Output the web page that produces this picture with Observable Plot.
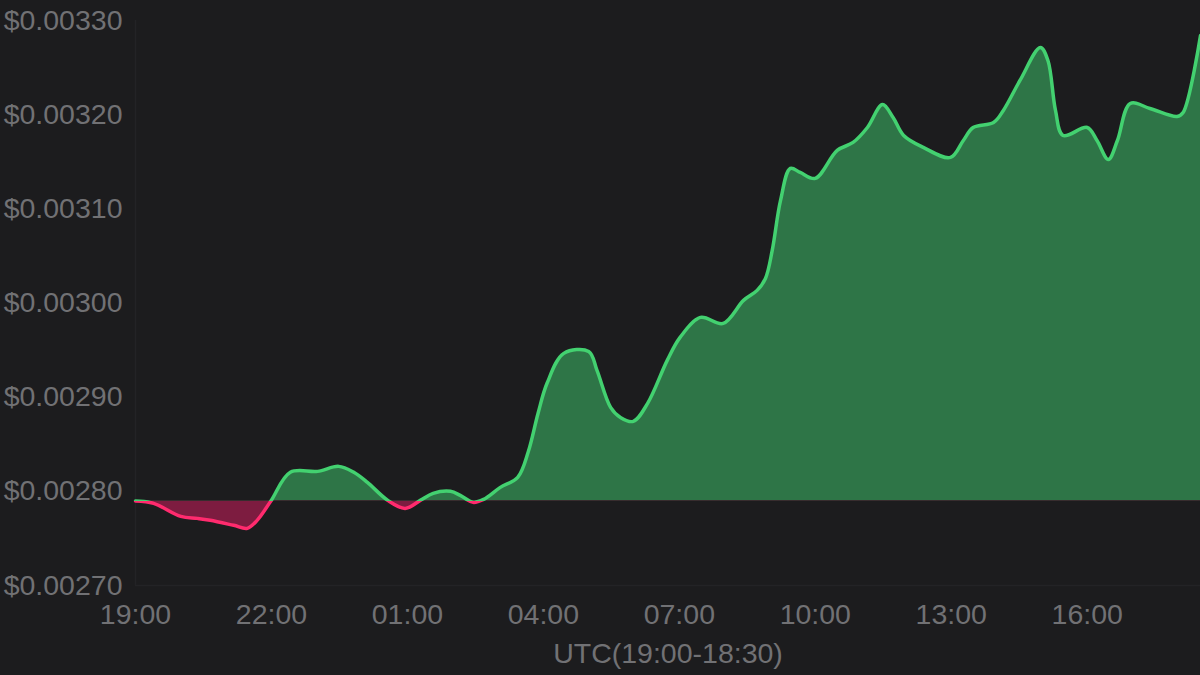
<!DOCTYPE html>
<html>
<head>
<meta charset="utf-8">
<script src="https://cdn.jsdelivr.net/npm/d3@7"></script>
<script src="https://cdn.jsdelivr.net/npm/@observablehq/plot@0.6"></script>
<style>
  html, body { margin: 0; padding: 0; background: #1c1c1e; }
  #chart { width: 1200px; height: 675px; }
</style>
</head>
<body>
<div id="chart"></div>
<script>
// minutes after 19:00 UTC
const minutes = [0,24,60,82,99,130,148,161,179,205,241,269,289,307,334,357,377,394,417,430,447,461,483,506,520,533,545,567,600,611,629,642,659,678,704,721,748,778,805,823,834,843,854,867,880,900,929,950,969,989,1003,1017,1043,1079,1096,1109,1136,1149,1171,1198,1208,1218,1228,1260,1273,1288,1300,1317,1343,1379,1387,1410];
// price in USD
const prices = [0.0027897,0.0027872,0.0027734,0.0027713,0.0027692,0.0027639,0.0027607,0.0027692,0.0027894,0.0028202,0.0028212,0.0028265,0.0028202,0.0028095,0.0027904,0.0027819,0.0027904,0.0027979,0.0028000,0.0027957,0.0027883,0.0027915,0.0028042,0.0028148,0.0028420,0.0028830,0.0029150,0.0029465,0.0029486,0.0029284,0.0028892,0.0028785,0.0028743,0.0028934,0.0029391,0.0029635,0.0029847,0.0029783,0.0030028,0.0030134,0.0030261,0.0030558,0.0031089,0.0031429,0.0031386,0.0031323,0.0031620,0.0031705,0.0031864,0.0032108,0.0031970,0.0031779,0.0031652,0.0031546,0.0031726,0.0031864,0.0031917,0.0032045,0.0032363,0.0032713,0.0032575,0.0032045,0.0031779,0.0031864,0.0031726,0.0031524,0.0031726,0.0032119,0.0032066,0.0031981,0.0032023,0.0032840];
const yTicks = [0.0027,0.0028,0.0029,0.0030,0.0031,0.0032,0.0033];
const xTickLabels = ["19:00","22:00","01:00","04:00","07:00","10:00","13:00","16:00"];
const endLabel = "18:30";
const axisTitle = "UTC(19:00-18:30)";

const start = new Date(Date.UTC(2024, 0, 1, 19, 0));
const toDate = (hhmm) => {
  const [h, m] = hhmm.split(":").map(Number);
  return new Date(Date.UTC(2024, 0, h >= 19 ? 1 : 2, h, m));
};
const data = minutes.map((m, i) => ({t: new Date(+start + m * 60000), p: prices[i], b: prices[0]}));
const base = prices[0];
const xTicks = xTickLabels.map(toDate);
const end = toDate(endLabel);

const green = "#43d170", greenFill = "#2e7547", red = "#ff2b6e", redFill = "#7d1c40";
const textColor = "#717174";
const curve = "catmull-rom";

const plot = Plot.plot({
  width: 1200,
  height: 675,
  marginLeft: 135,
  marginRight: 0,
  marginTop: 20,
  marginBottom: 90,
  style: {background: "#1c1c1e", color: textColor, fontFamily: "'Liberation Sans', Arial, sans-serif", fontSize: "28.5px"},
  x: {type: "utc", domain: [start, end], ticks: xTicks, tickFormat: d3.utcFormat("%H:%M"), tickSize: 0, tickPadding: 18, label: null},
  y: {domain: [0.0027, 0.0033], ticks: yTicks, tickFormat: d => "$" + d.toFixed(5), tickSize: 0, tickPadding: 13, label: null},
  marks: [
    Plot.ruleX([start], {stroke: "#232326", strokeWidth: 1.5}),
    Plot.ruleY([0.0027], {stroke: "#232326", strokeWidth: 1.5}),
    Plot.areaY(data, {x: "t", y1: "b", y2: "p", fill: greenFill, curve}),
    Plot.areaY(data, {x: "t", y1: "b", y2: "p", fill: redFill, curve}),
    Plot.lineY(data, {x: "t", y: "p", stroke: green, strokeWidth: 3.5, curve}),
    Plot.lineY(data, {x: "t", y: "p", stroke: red, strokeWidth: 3.5, curve}),
    Plot.text([axisTitle], {frameAnchor: "bottom", dy: 77, fill: textColor, fontSize: 28.5})
  ]
});

// split above/below opening price with clip paths
const yb = plot.scale("y").apply(base);
const svg = d3.select(plot);
const defs = svg.insert("defs", ":first-child");
defs.append("clipPath").attr("id", "clip-up").append("rect").attr("x", 0).attr("y", 0).attr("width", 1200).attr("height", yb);
defs.append("clipPath").attr("id", "clip-down").append("rect").attr("x", 0).attr("y", yb).attr("width", 1200).attr("height", 675 - yb);
const areas = plot.querySelectorAll('g[aria-label="area"]');
const lines = plot.querySelectorAll('g[aria-label="line"]');
if (areas.length === 2) { areas[0].setAttribute("clip-path", "url(#clip-up)"); areas[1].setAttribute("clip-path", "url(#clip-down)"); }
if (lines.length === 2) { lines[0].setAttribute("clip-path", "url(#clip-up)"); lines[1].setAttribute("clip-path", "url(#clip-down)"); }

document.getElementById("chart").appendChild(plot);
</script>
</body>
</html>
